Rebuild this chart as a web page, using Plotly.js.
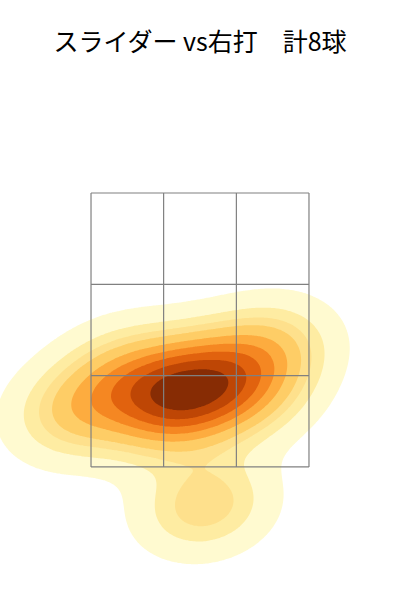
<!DOCTYPE html>
<html><head><meta charset="utf-8">
<script src="https://cdn.plot.ly/plotly-3.0.1.min.js"></script>
<style>body{margin:0;background:#fff}</style>
</head><body><div id="chart" style="width:400px;height:600px"></div>
<script>
// pitch locations (horizontal / vertical, ft)
const pitchX = [-0.23, 0.00, -0.10, -0.81, -0.49, 0.44, 0.29, 0.03];
const pitchY = [1.96, 2.22, 2.07, 1.96, 2.22, 2.37, 2.07, 1.35];
// strike zone grid
const zoneX = [-0.71, -0.237, 0.237, 0.71];
const zoneY = [1.6, 2.2, 2.8, 3.4];
const bandColors = ['rgb(255,250,208)','rgb(254,236,162)','rgb(254,224,140)','rgb(254,205,102)',
  'rgb(253,172,63)','rgb(245,135,34)','rgb(225,98,14)','rgb(190,70,5)','rgb(135,44,4)'];
const titleText = 'スライダー vs右打　計8球';

// Gaussian KDE (scott bandwidth), seaborn-style iso-proportion levels
const n = pitchX.length;
const mean = a => a.reduce((s, v) => s + v, 0) / a.length;
const mx = mean(pitchX), my = mean(pitchY);
let cxx = 0, cyy = 0, cxy = 0;
for (let i = 0; i < n; i++) {
  const dx = pitchX[i] - mx, dy = pitchY[i] - my;
  cxx += dx * dx; cyy += dy * dy; cxy += dx * dy;
}
cxx /= (n - 1); cyy /= (n - 1); cxy /= (n - 1);
const f = Math.pow(n, -1 / 6);
const kxx = cxx * f * f, kyy = cyy * f * f, kxy = cxy * f * f;
const det = kxx * kyy - kxy * kxy;
const ixx = kyy / det, iyy = kxx / det, ixy = -kxy / det;
const bwx = Math.sqrt(kxx), bwy = Math.sqrt(kyy);
const G = 200;
const lin = (a, b, m) => Array.from({length: m}, (_, i) => a + (b - a) * i / (m - 1));
const gx = lin(Math.min(...pitchX) - 3 * bwx, Math.max(...pitchX) + 3 * bwx, G);
const gy = lin(Math.min(...pitchY) - 3 * bwy, Math.max(...pitchY) + 3 * bwy, G);
const norm = 1 / (2 * Math.PI * Math.sqrt(det) * n);
const z = [];
const flat = [];
for (let j = 0; j < G; j++) {
  const row = [];
  for (let i = 0; i < G; i++) {
    let s = 0;
    for (let k = 0; k < n; k++) {
      const dx = gx[i] - pitchX[k], dy = gy[j] - pitchY[k];
      s += Math.exp(-0.5 * (dx * dx * ixx + 2 * dx * dy * ixy + dy * dy * iyy));
    }
    row.push(s * norm); flat.push(s * norm);
  }
  z.push(row);
}
const sorted = flat.slice().sort((a, b) => b - a);
const total = sorted.reduce((s, v) => s + v, 0);
const cum = []; let acc = 0;
for (const v of sorted) { acc += v; cum.push(acc / total); }
const levels = lin(0.05, 1, 10).map(p => {
  const t = 1 - p;
  let idx = cum.findIndex(c => c >= t);
  if (idx < 0) idx = cum.length - 1;
  return sorted[idx];
});

const traces = [];
for (let k = 0; k < 9; k++) {
  traces.push({
    type: 'contour', x: gx, y: gy, z: z,
    contours: {type: 'constraint', operation: '<', value: levels[k]},
    fillcolor: bandColors[k], line: {width: 0, color: bandColors[k], smoothing: 0},
    showscale: false, hoverinfo: 'skip'
  });
}
// zone grid
const lx = [], ly = [];
zoneX.forEach(v => { lx.push(v, v, null); ly.push(zoneY[0], zoneY[3], null); });
zoneY.forEach(v => { lx.push(zoneX[0], zoneX[3], null); ly.push(v, v, null); });
traces.push({type: 'scatter', mode: 'lines', x: lx, y: ly,
  line: {color: 'rgb(128,128,128)', width: 1.2}, hoverinfo: 'skip', showlegend: false});

const ax = {visible: false, showgrid: false, zeroline: false, fixedrange: true};
Plotly.newPlot('chart', traces, {
  width: 400, height: 600,
  margin: {l: 0, r: 0, t: 100, b: 0},
  paper_bgcolor: '#fff', plot_bgcolor: '#fff',
  showlegend: false,
  title: {text: titleText, x: 0.5, xanchor: 'center', y: 1 - 42 / 600, yref: 'container', yanchor: 'middle',
    font: {family: 'Noto Sans CJK JP', size: 25, color: '#000'}},
  xaxis: Object.assign({range: [-1.303, 1.303]}, ax),
  yaxis: Object.assign({range: [0.726, 4.011]}, ax)
}, {staticPlot: true});
</script></body></html>
